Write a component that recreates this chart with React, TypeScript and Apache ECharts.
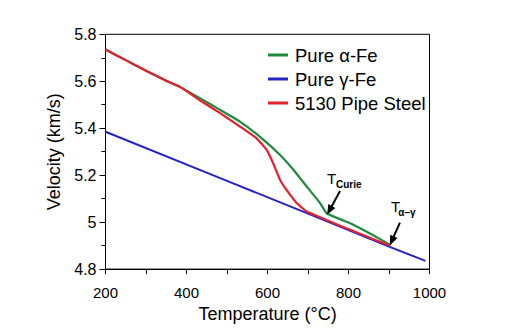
import React, { useEffect, useRef } from 'react';
import * as echarts from 'echarts';

// Pure gamma-Fe
const blueTemps = [200, 500, 700, 900, 990];
const blueVals = [5.385, 5.176, 5.036, 4.896, 4.835];

// Pure alpha-Fe
const greenTemps = [200, 250, 300, 350, 384, 433, 483, 532, 581, 631, 664, 697, 730, 746, 812, 860, 903];
const greenVals = [5.735, 5.69, 5.645, 5.602, 5.576, 5.528, 5.478, 5.428, 5.364, 5.286, 5.223, 5.151, 5.081, 5.038, 4.989, 4.945, 4.903];

// 5130 Pipe Steel
const redTemps = [200, 250, 300, 350, 384, 433, 483, 532, 573, 598, 614, 631, 647, 672, 697, 750, 812, 860, 903];
const redVals = [5.735, 5.69, 5.645, 5.602, 5.576, 5.519, 5.464, 5.407, 5.357, 5.308, 5.251, 5.18, 5.137, 5.081, 5.045, 5.006, 4.962, 4.928, 4.9];

const seriesNames = ['Pure \u03b1-Fe', 'Pure \u03b3-Fe', '5130 Pipe Steel'];

// annotation arrows [tail, head] in data coords
const curieArrow = [[779, 5.133], [753, 5.05]];
const transArrow = [[927, 4.998], [907, 4.92]];
// annotation text anchors (left, baseline) in data coords
const curieT = [747, 5.167];
const curieSub = [769, 5.15];
const transT = [905, 5.048];
const transSub = [923, 5.027];

const FONT = '"Liberation Sans", Arial, sans-serif';

export default function App() {
  const ref = useRef<HTMLDivElement>(null);
  useEffect(() => {
    const chart = echarts.init(ref.current!, null, { renderer: 'svg' });
    const pair = (ts: number[], vs: number[]) => ts.map((t, i) => [t, vs[i]]);
    chart.setOption({
      animation: false,
      backgroundColor: '#fff',
      textStyle: { fontFamily: FONT },
      grid: {
        left: 105.5, right: 83.5, top: 34.3, bottom: 58.7,
        show: true, borderColor: '#000', borderWidth: 1,
      },
      legend: {
        orient: 'vertical', left: 263, top: 40,
        icon: 'rect', itemWidth: 20, itemHeight: 3, itemGap: 4,
        data: seriesNames,
        textStyle: { fontSize: 18.5, color: '#000', fontFamily: FONT, lineHeight: 20, padding: [0, 0, 0, 2] },
      },
      xAxis: {
        type: 'value', min: 200, max: 1000, interval: 200,
        name: 'Temperature (\u00b0C)', nameLocation: 'middle', nameGap: 31,
        nameTextStyle: { fontSize: 18, color: '#000', fontFamily: FONT },
        axisLine: { lineStyle: { color: '#000', width: 1 } },
        axisTick: { length: 5, lineStyle: { color: '#000' } },
        minorTick: { show: true, splitNumber: 2, length: 5, lineStyle: { color: '#000' } },
        axisLabel: { fontSize: 15, color: '#000', margin: 16, fontFamily: FONT, formatter: (v: number) => String(v) },
        splitLine: { show: false },
      },
      yAxis: {
        type: 'value', min: 4.8, max: 5.8, interval: 0.2,
        name: 'Velocity (km/s)', nameLocation: 'middle', nameGap: 37,
        nameTextStyle: { fontSize: 18, color: '#000', fontFamily: FONT },
        axisLine: { show: true, lineStyle: { color: '#000', width: 1 } },
        axisTick: { show: true, length: 6, lineStyle: { color: '#000' } },
        minorTick: { show: true, splitNumber: 2, length: 4, lineStyle: { color: '#000' } },
        axisLabel: { fontSize: 16, color: '#000', margin: 9, fontFamily: FONT, formatter: (v: number) => (Math.round(v * 10) / 10).toString() },
        splitLine: { show: false },
      },
      series: [
        {
          name: seriesNames[1], type: 'line', data: pair(blueTemps, blueVals),
          showSymbol: false, symbol: 'none', color: '#2323c8',
          lineStyle: { width: 2, color: '#2323c8' }, z: 2,
        },
        {
          name: seriesNames[0], type: 'line', data: pair(greenTemps, greenVals),
          showSymbol: false, symbol: 'none', color: '#1e8a3a', smooth: 0.12,
          lineStyle: { width: 2.2, color: '#1e8a3a' }, z: 3,
          markLine: {
            silent: true, symbol: ['none', 'triangle'], symbolSize: [8, 10],
            lineStyle: { color: '#000', width: 2, type: 'solid' },
            label: { show: false },
            emphasis: { disabled: true },
            data: [
              [{ coord: curieArrow[0] }, { coord: curieArrow[1] }],
              [{ coord: transArrow[0] }, { coord: transArrow[1] }],
            ],
          },
        },
        {
          name: seriesNames[2], type: 'line', data: pair(redTemps, redVals),
          showSymbol: false, symbol: 'none', color: '#e4202e', smooth: 0.12,
          lineStyle: { width: 2.2, color: '#e4202e' }, z: 4,
        },
      ],
    });
    const px = (c: number[]) => chart.convertToPixel({ gridIndex: 0 }, c) as number[];
    const txt = (c: number[], text: string, size: number, bold: boolean) => {
      const p = px(c);
      return {
        type: 'text', x: p[0], y: p[1] + size * 0.21, z: 10,
        style: { text, fontSize: size, fontFamily: FONT, fontWeight: bold ? 'bold' : 'normal', fill: '#000', align: 'left', verticalAlign: 'bottom' },
      };
    };
    chart.setOption({
      graphic: [
        txt(curieT, 'T', 15, false),
        txt(curieSub, 'Curie', 10, true),
        txt(transT, 'T', 15, false),
        txt(transSub, '\u03b1\u2013\u03b3', 10, true),
      ],
    });
    return () => chart.dispose();
  }, []);
  return <div ref={ref} style={{ position: 'fixed', left: 0, top: 0, width: 513, height: 328, background: '#fff' }} />;
}
